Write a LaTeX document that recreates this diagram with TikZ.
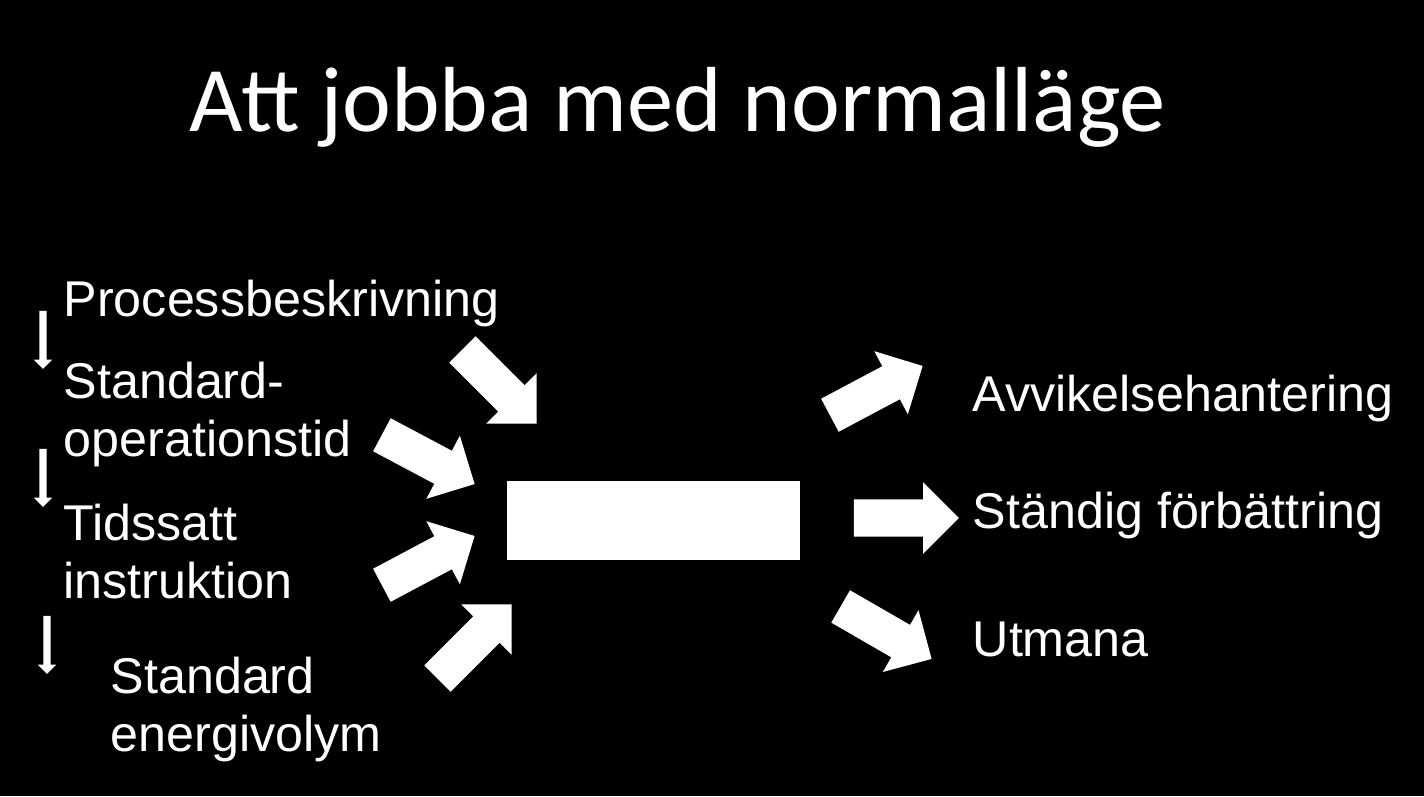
\documentclass[tikz,border=0pt]{standalone}
\usepackage{fontspec}
\setmainfont{Liberation Sans}
\newfontfamily\titlefont{Carlito}
\usetikzlibrary{shapes.arrows}
\tikzset{
  label/.style={anchor=base west,text=white,align=left,inner sep=0pt,
    font=\fontsize{14.3}{16.5}\selectfont},
  bigarrow/.style={single arrow,fill=white,draw=none,inner sep=0.18cm,
    single arrow head extend=0.17cm,minimum height=1.05cm},
  smallarrow/.style={single arrow,fill=white,draw=none,inner sep=0.03cm,
    single arrow head extend=0.055cm,minimum height=0.58cm,rotate=-90}
}
\begin{document}
\begin{tikzpicture}
  \fill[black] (0,0) rectangle (14.24,7.96);
  \useasboundingbox (0,0) rectangle (14.24,7.96);
  % title
  \node[text=white,font=\titlefont\fontsize{26.3}{30}\selectfont] (title) at (6.78,6.89) {Att jobba med normalläge};
  % left column
  \node[label] (procdesc) at (0.63,4.80) {Processbeskrivning};
  \node[label] (stdtime) at (0.63,3.40) {Standard-\\operationstid};
  \node[label] (timedinst) at (0.63,1.98) {Tidssatt\\instruktion};
  \node[label] (stdenergy) at (1.10,0.45) {Standard\\energivolym};
  \node[smallarrow] (down1) at (0.43,4.58) {};
  \node[smallarrow] (down2) at (0.43,3.2) {};
  \node[smallarrow] (down3) at (0.47,1.53) {};
  % centre box
  \node[fill=white,minimum width=2.93cm,minimum height=0.79cm,inner sep=0pt] (core) at (6.535,2.755) {};
  % in arrows
  \node[bigarrow,rotate=-45] (in1) at (4.93,4.16) {};
  \node[bigarrow,rotate=-28] (in2) at (4.20,3.41) {};
  \node[bigarrow,rotate=28] (in3) at (4.20,2.31) {};
  \node[bigarrow,rotate=45] (in4) at (4.68,1.48) {};
  % out arrows
  \node[bigarrow,rotate=28] (out1) at (8.68,4.01) {};
  \node[bigarrow] (out2) at (8.97,2.78) {};
  \node[bigarrow,rotate=-30] (out3) at (8.78,1.68) {};
  % right column
  \node[label] (deviation) at (9.72,3.85) {Avvikelsehantering};
  \node[label] (improve) at (9.72,2.68) {Ständig förbättring};
  \node[label] (challenge) at (9.72,1.40) {Utmana};
\end{tikzpicture}
\end{document}
